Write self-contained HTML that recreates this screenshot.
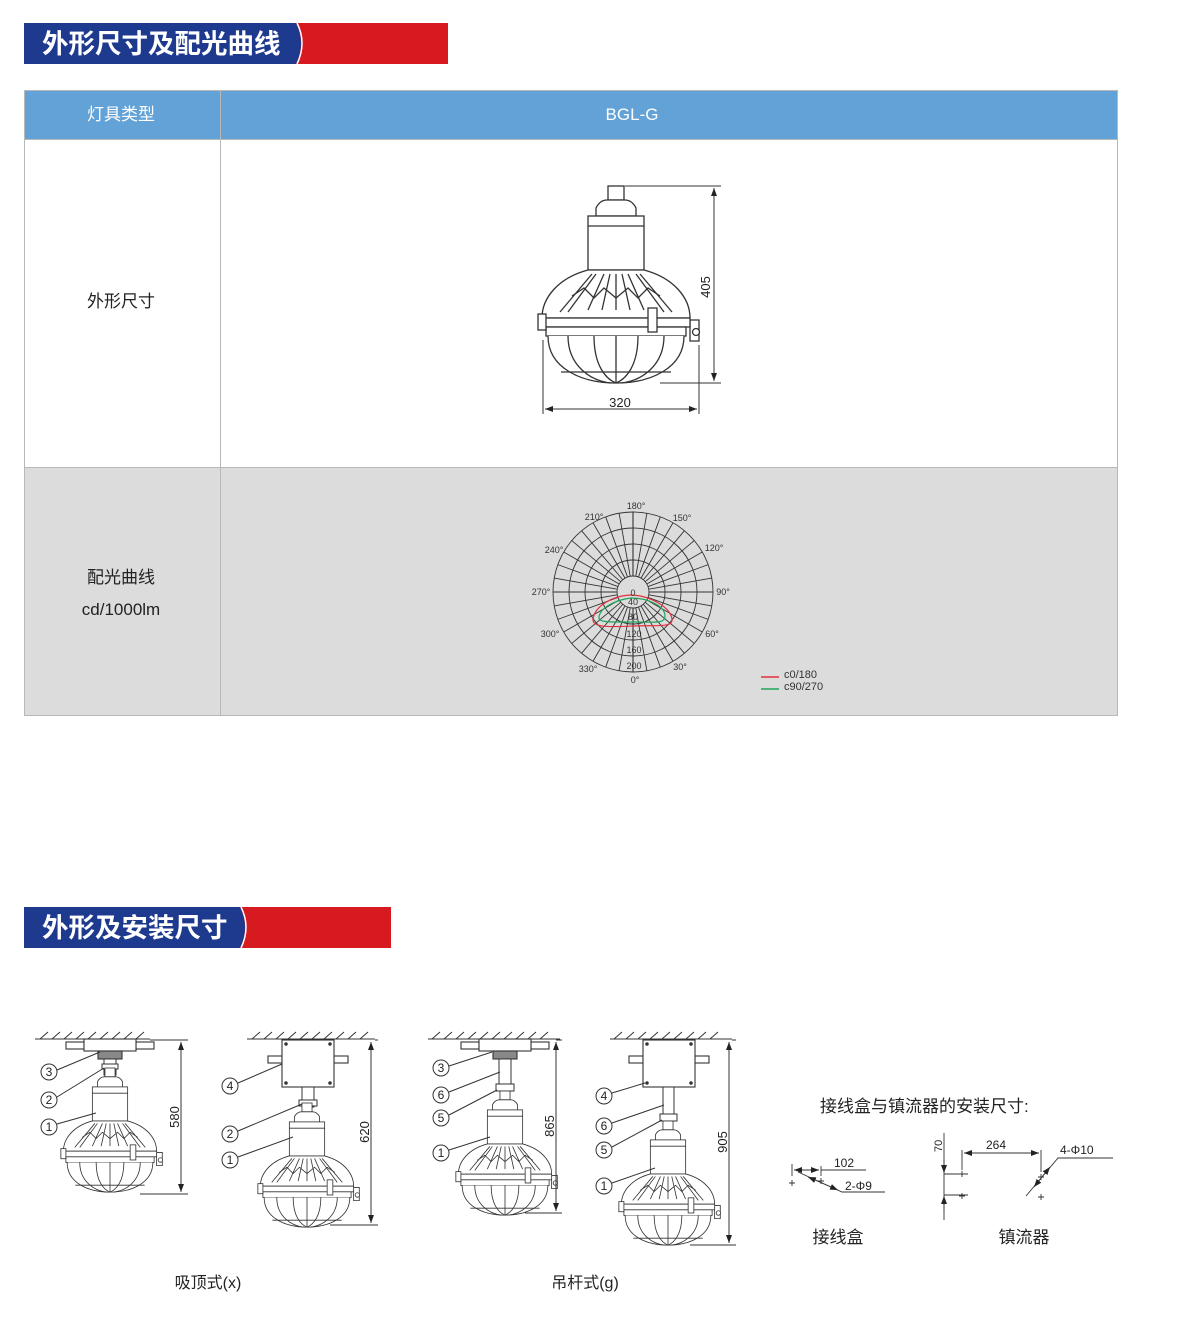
<!DOCTYPE html>
<html><head><meta charset="utf-8">
<style>
html,body{margin:0;padding:0;background:#fff;}
body{width:1200px;height:1327px;position:relative;overflow:hidden;font-family:"Liberation Sans","Noto Sans CJK SC",sans-serif;}
svg text{font-family:"Liberation Sans","Noto Sans CJK SC",sans-serif;}
</style></head><body>
<svg width="1200" height="1327" viewBox="0 0 1200 1327" xmlns="http://www.w3.org/2000/svg">
<defs>
<symbol id="lamp" overflow="visible">
 <g fill="#fff" stroke="#333" stroke-width="1.3">
  <rect x="-8" y="0" width="16" height="14"/>
  <path d="M-20,30 L-20,22 Q-16,14 -9,14 L9,14 Q16,14 20,22 L20,30 Z"/>
  <rect x="-28" y="30" width="56" height="54"/>
  <line x1="-28" y1="40" x2="28" y2="40"/>
  <path d="M-28,84 C-58,92 -74,112 -74,132 L74,132 C74,112 58,92 28,84 Z"/>
  <path d="M-24,88 L-56,126 M-20,88 L-48,126 M-12,88 L-28,124 M-6,88 L-14,124 M0,88 L0,124 M6,88 L14,124 M12,88 L28,124 M20,88 L48,126 M24,88 L56,126" fill="none"/>
  <path d="M-44,110 L-32,102 L-22,112 L-12,102 L0,112 L12,102 L22,112 L32,102 L44,110" fill="none"/>
  <path d="M74,134 L83,134 L83,155 L74,155 Z"/>
  <circle cx="80" cy="146" r="3.5"/>
  <rect x="-74" y="132" width="148" height="9"/>
  <rect x="-70" y="141" width="140" height="9"/>
  <rect x="-78" y="128" width="8" height="16"/>
  <rect x="32" y="122" width="9" height="24"/>
  <path d="M-68,150 C-68,182 -35,197 0,197 C35,197 68,182 68,150" />
  <path d="M-48,150 C-48,180 -25,195 -5,197 M-22,150 C-22,180 -10,193 0,197 M22,150 C22,180 10,193 0,197 M48,150 C48,180 25,195 5,197 M0,150 L0,197 M-55,186 L55,186" fill="none"/>
 </g>
</symbol>
<symbol id="bracket" overflow="visible">
 <g fill="#fff" stroke="#333" stroke-width="1.1">
  <rect x="-44" y="-4" width="18" height="7"/><rect x="26" y="-4" width="18" height="7"/>
  <rect x="-26" y="-7" width="52" height="12"/>
  <rect x="-12" y="5" width="24" height="8" fill="#888"/>
 </g>
</symbol>
<symbol id="jbox" overflow="visible">
 <g fill="#fff" stroke="#333" stroke-width="1.1">
  <rect x="-40" y="16" width="14" height="7"/><rect x="26" y="16" width="14" height="7"/>
  <rect x="-26" y="0" width="52" height="47"/>
  <circle cx="-22" cy="4" r="1.2" fill="#333"/><circle cx="22" cy="4" r="1.2" fill="#333"/>
  <circle cx="-22" cy="43" r="1.2" fill="#333"/><circle cx="22" cy="43" r="1.2" fill="#333"/>
 </g>
</symbol>
<marker id="ar" markerWidth="8" markerHeight="6" refX="8" refY="3" orient="auto-start-reverse" markerUnits="userSpaceOnUse"><path d="M0,0 L8,3 L0,6 Z" fill="#222"/></marker>
</defs>

<!-- Banner 1 -->
<rect x="24" y="23" width="424" height="41" fill="#d71920"/>
<path d="M24,23 H296 Q306,43 296,64 H24 Z" fill="#1e3a8f"/>
<path d="M297,23 Q307,43 297,64" fill="none" stroke="#fff" stroke-width="1.5"/>
<text x="42" y="53" font-size="26.5" font-weight="bold" fill="#fff">外形尺寸及配光曲线</text>

<!-- Table -->
<rect x="24" y="90" width="1094" height="49" fill="#63a2d7"/>
<rect x="24" y="139" width="1094" height="328" fill="#fff"/>
<rect x="24" y="467" width="1094" height="249" fill="#dcdcdc"/>
<g stroke="#b8b8b8" stroke-width="1" fill="none">
 <rect x="24.5" y="90.5" width="1093" height="625"/>
 <line x1="220.5" y1="90" x2="220.5" y2="716"/>
 <line x1="24" y1="139.5" x2="1118" y2="139.5"/>
 <line x1="24" y1="467.5" x2="1118" y2="467.5"/>
</g>
<text x="121" y="120" font-size="17" fill="#fff" text-anchor="middle">灯具类型</text>
<text x="632" y="120" font-size="17" fill="#fff" text-anchor="middle">BGL-G</text>
<text x="121" y="307" font-size="17" fill="#222" text-anchor="middle">外形尺寸</text>
<text x="121" y="583" font-size="17" fill="#222" text-anchor="middle">配光曲线</text>
<text x="121" y="615" font-size="17" fill="#222" text-anchor="middle">cd/1000lm</text>

<!-- Main lamp -->
<use href="#lamp" x="616" y="186"/>
<g stroke="#333" stroke-width="1" fill="none">
 <line x1="625" y1="186" x2="721" y2="186"/>
 <line x1="660" y1="383" x2="721" y2="383"/>
 <line x1="714" y1="188" x2="714" y2="381" marker-start="url(#ar)" marker-end="url(#ar)"/>
 <line x1="543" y1="340" x2="543" y2="414"/>
 <line x1="699" y1="345" x2="699" y2="414"/>
 <line x1="545" y1="409" x2="697" y2="409" marker-start="url(#ar)" marker-end="url(#ar)"/>
</g>
<text x="620" y="407" font-size="13" fill="#222" text-anchor="middle">320</text>
<text transform="translate(710,287) rotate(-90)" font-size="13" fill="#222" text-anchor="middle">405</text>

<!-- Polar chart -->
<g stroke="#333" stroke-width="0.9" fill="none">
 <circle cx="633" cy="592" r="80"/><circle cx="633" cy="592" r="64"/><circle cx="633" cy="592" r="48"/><circle cx="633" cy="592" r="32"/><circle cx="633" cy="592" r="16"/>
 <g id="sp"><path d="M633,512V576M633,608V672"/></g>
 <use href="#sp" transform="rotate(10 633 592)"/><use href="#sp" transform="rotate(20 633 592)"/><use href="#sp" transform="rotate(30 633 592)"/>
 <use href="#sp" transform="rotate(40 633 592)"/><use href="#sp" transform="rotate(50 633 592)"/><use href="#sp" transform="rotate(60 633 592)"/>
 <use href="#sp" transform="rotate(70 633 592)"/><use href="#sp" transform="rotate(80 633 592)"/><use href="#sp" transform="rotate(90 633 592)"/>
 <use href="#sp" transform="rotate(100 633 592)"/><use href="#sp" transform="rotate(110 633 592)"/><use href="#sp" transform="rotate(120 633 592)"/>
 <use href="#sp" transform="rotate(130 633 592)"/><use href="#sp" transform="rotate(140 633 592)"/><use href="#sp" transform="rotate(150 633 592)"/>
 <use href="#sp" transform="rotate(160 633 592)"/><use href="#sp" transform="rotate(170 633 592)"/>
 <path d="M553,592H617M649,592H713M633,512V576M633,608V672" stroke-width="1.1"/>
</g>
<path d="M630,595 C612,596 595,606 593,619 C592,628 610,627 633,626 C655,625 672,628 672,620 C672,608 650,595 630,595 Z" fill="none" stroke="#e0323c" stroke-width="1.2"/>
<path d="M631,598 C615,600 600,608 599,617 C598,623 612,622 633,622 C655,622 665,624 665,616 C665,606 648,598 631,598 Z" fill="none" stroke="#1fa45a" stroke-width="1.2"/>
<g font-size="9" fill="#333" text-anchor="middle">
 <text x="636" y="509">180°</text><text x="682" y="521">150°</text><text x="714" y="551">120°</text>
 <text x="723" y="595">90°</text><text x="712" y="637">60°</text><text x="680" y="670">30°</text>
 <text x="635" y="683">0°</text><text x="588" y="672">330°</text><text x="550" y="637">300°</text>
 <text x="541" y="595">270°</text><text x="554" y="553">240°</text><text x="594" y="520">210°</text>
 <text x="633" y="596">0</text><text x="633" y="605">40</text><text x="633" y="620">80</text>
 <text x="634" y="637">120</text><text x="634" y="653">160</text><text x="634" y="669">200</text>
</g>
<line x1="761" y1="677" x2="779" y2="677" stroke="#e0323c" stroke-width="1.5"/>
<line x1="761" y1="689" x2="779" y2="689" stroke="#1fa45a" stroke-width="1.5"/>
<text x="784" y="678" font-size="11" fill="#333">c0/180</text>
<text x="784" y="690" font-size="11" fill="#333">c90/270</text>

<!-- Banner 2 -->
<rect x="24" y="907" width="367" height="41" fill="#d71920"/>
<path d="M24,907 H240 Q250,927 240,948 H24 Z" fill="#1e3a8f"/>
<path d="M241,907 Q251,927 241,948" fill="none" stroke="#fff" stroke-width="1.5"/>
<text x="42" y="937" font-size="26.5" font-weight="bold" fill="#fff">外形及安装尺寸</text>

<!-- ceilings -->
<g stroke="#333" stroke-width="1" fill="none">
 <path d="M35,1039H150 M40,1039l8,-7 M52,1039l8,-7 M64,1039l8,-7 M76,1039l8,-7 M88,1039l8,-7 M100,1039l8,-7 M112,1039l8,-7 M124,1039l8,-7 M136,1039l8,-7"/>
 <path d="M247,1039H375 M252,1039l8,-7 M264,1039l8,-7 M276,1039l8,-7 M288,1039l8,-7 M300,1039l8,-7 M312,1039l8,-7 M324,1039l8,-7 M336,1039l8,-7 M348,1039l8,-7 M360,1039l8,-7"/>
 <path d="M428,1039H560 M432,1039l8,-7 M444,1039l8,-7 M456,1039l8,-7 M468,1039l8,-7 M480,1039l8,-7 M492,1039l8,-7 M504,1039l8,-7 M516,1039l8,-7 M528,1039l8,-7 M540,1039l8,-7"/>
 <path d="M610,1039H732 M614,1039l8,-7 M626,1039l8,-7 M638,1039l8,-7 M650,1039l8,-7 M662,1039l8,-7 M674,1039l8,-7 M686,1039l8,-7 M698,1039l8,-7 M710,1039l8,-7"/>
</g>

<!-- Lamp A -->
<use href="#bracket" x="110" y="1046"/>
<rect x="104" y="1059" width="12" height="16" fill="#fff" stroke="#333"/>
<rect x="102" y="1064" width="16" height="5" fill="#fff" stroke="#333"/>
<use href="#lamp" transform="translate(110,1068) scale(0.63)"/>
<!-- Lamp B -->
<use href="#jbox" x="308" y="1040"/>
<rect x="302" y="1087" width="12" height="20" fill="#fff" stroke="#333"/>
<rect x="299" y="1100" width="18" height="6" fill="#fff" stroke="#333"/>
<use href="#lamp" transform="translate(307,1103) scale(0.63)"/>
<!-- Lamp C -->
<use href="#bracket" x="505" y="1046"/>
<rect x="499" y="1059" width="12" height="32" fill="#fff" stroke="#333"/>
<rect x="496" y="1084" width="18" height="7" fill="#fff" stroke="#333"/>
<use href="#lamp" transform="translate(505,1091) scale(0.63)"/>
<!-- Lamp D -->
<use href="#jbox" x="669" y="1040"/>
<rect x="663" y="1087" width="11" height="33" fill="#fff" stroke="#333"/>
<rect x="660" y="1114" width="17" height="7" fill="#fff" stroke="#333"/>
<use href="#lamp" transform="translate(668,1121) scale(0.63)"/>

<!-- dims -->
<g stroke="#333" stroke-width="1" fill="none">
 <line x1="150" y1="1040" x2="188" y2="1040"/><line x1="140" y1="1194" x2="188" y2="1194"/>
 <line x1="181" y1="1042" x2="181" y2="1192" marker-start="url(#ar)" marker-end="url(#ar)"/>
 <line x1="375" y1="1040" x2="378" y2="1040"/><line x1="330" y1="1225" x2="378" y2="1225"/>
 <line x1="371" y1="1042" x2="371" y2="1223" marker-start="url(#ar)" marker-end="url(#ar)"/>
 <line x1="556" y1="1040" x2="562" y2="1040"/><line x1="525" y1="1213" x2="562" y2="1213"/>
 <line x1="556" y1="1042" x2="556" y2="1211" marker-start="url(#ar)" marker-end="url(#ar)"/>
 <line x1="732" y1="1040" x2="736" y2="1040"/><line x1="690" y1="1245" x2="736" y2="1245"/>
 <line x1="729" y1="1042" x2="729" y2="1243" marker-start="url(#ar)" marker-end="url(#ar)"/>
</g>
<g font-size="13" fill="#222" text-anchor="middle">
 <text transform="translate(179,1117) rotate(-90)">580</text>
 <text transform="translate(369,1132) rotate(-90)">620</text>
 <text transform="translate(554,1126) rotate(-90)">865</text>
 <text transform="translate(727,1142) rotate(-90)">905</text>
</g>

<!-- callouts -->
<g stroke="#333" stroke-width="1" fill="#fff">
 <line x1="57" y1="1070" x2="100" y2="1052"/><line x1="57" y1="1097" x2="104" y2="1068"/><line x1="57" y1="1124" x2="96" y2="1113"/>
 <line x1="238" y1="1083" x2="282" y2="1064"/><line x1="238" y1="1131" x2="302" y2="1104"/><line x1="238" y1="1157" x2="293" y2="1137"/>
 <line x1="449" y1="1066" x2="492" y2="1052"/><line x1="449" y1="1092" x2="500" y2="1072"/><line x1="449" y1="1115" x2="497" y2="1090"/><line x1="449" y1="1150" x2="490" y2="1137"/>
 <line x1="612" y1="1093" x2="645" y2="1083"/><line x1="612" y1="1123" x2="664" y2="1105"/><line x1="612" y1="1147" x2="662" y2="1120"/><line x1="612" y1="1183" x2="655" y2="1168"/>
 <circle cx="49" cy="1072" r="8"/><circle cx="49" cy="1100" r="8"/><circle cx="49" cy="1127" r="8"/>
 <circle cx="230" cy="1086" r="8"/><circle cx="230" cy="1134" r="8"/><circle cx="230" cy="1160" r="8"/>
 <circle cx="441" cy="1068" r="8"/><circle cx="441" cy="1095" r="8"/><circle cx="441" cy="1118" r="8"/><circle cx="441" cy="1153" r="8"/>
 <circle cx="604" cy="1096" r="8"/><circle cx="604" cy="1126" r="8"/><circle cx="604" cy="1150" r="8"/><circle cx="604" cy="1186" r="8"/>
</g>
<g font-size="12" fill="#222" text-anchor="middle">
 <text x="49" y="1076">3</text><text x="49" y="1104">2</text><text x="49" y="1131">1</text>
 <text x="230" y="1090">4</text><text x="230" y="1138">2</text><text x="230" y="1164">1</text>
 <text x="441" y="1072">3</text><text x="441" y="1099">6</text><text x="441" y="1122">5</text><text x="441" y="1157">1</text>
 <text x="604" y="1100">4</text><text x="604" y="1130">6</text><text x="604" y="1154">5</text><text x="604" y="1190">1</text>
</g>
<text x="208" y="1288" font-size="16" fill="#222" text-anchor="middle">吸顶式(x)</text>
<text x="585" y="1288" font-size="16" fill="#222" text-anchor="middle">吊杆式(g)</text>

<!-- install dims -->
<text x="820" y="1112" font-size="17" fill="#222">接线盒与镇流器的安装尺寸:</text>
<g stroke="#333" stroke-width="0.9" fill="none">
 <line x1="792" y1="1164" x2="792" y2="1176"/><line x1="821" y1="1166" x2="821" y2="1176"/>
 <line x1="794" y1="1170" x2="819" y2="1170" marker-start="url(#ar)" marker-end="url(#ar)"/>
 <line x1="821" y1="1170" x2="866" y2="1170"/>
 <path d="M798,1172 L842,1192 L885,1192" /><line x1="808" y1="1177" x2="838" y2="1190" marker-start="url(#ar)" marker-end="url(#ar)"/>
 <path d="M789,1183h6M792,1180v6 M818,1181h6M821,1178v6"/>
 <line x1="944" y1="1133" x2="944" y2="1220"/>
 <line x1="944" y1="1174" x2="968" y2="1174"/><line x1="944" y1="1195" x2="968" y2="1195"/>
 <line x1="944" y1="1160" x2="944" y2="1173" marker-end="url(#ar)"/><line x1="944" y1="1210" x2="944" y2="1196" marker-end="url(#ar)"/>
 <path d="M959,1174h6M962,1171v6 M959,1196h6M962,1193v6 M1038,1177h6M1041,1174v6 M1038,1197h6M1041,1194v6"/>
 <line x1="962" y1="1150" x2="962" y2="1170"/><line x1="1041" y1="1150" x2="1041" y2="1172"/>
 <line x1="964" y1="1153" x2="1039" y2="1153" marker-start="url(#ar)" marker-end="url(#ar)"/>
 <path d="M1026,1196 L1058,1158 L1113,1158"/>
 <line x1="1034" y1="1187" x2="1050" y2="1167" marker-start="url(#ar)" marker-end="url(#ar)"/>
</g>
<g font-size="12" fill="#222">
 <text x="834" y="1167">102</text><text x="845" y="1190">2-Φ9</text>
 <text x="986" y="1149">264</text><text x="1060" y="1154">4-Φ10</text>
 <text transform="translate(942,1152) rotate(-90)" font-size="11">70</text>
</g>
<text x="838" y="1243" font-size="17" fill="#222" text-anchor="middle">接线盒</text>
<text x="1024" y="1243" font-size="17" fill="#222" text-anchor="middle">镇流器</text>
</svg>
</body></html>
